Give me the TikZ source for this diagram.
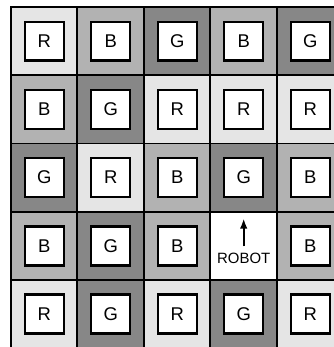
\documentclass[tikz,border=0pt]{standalone}
\usepackage{fontspec}
\setmainfont{Liberation Sans}
\usepackage{tikz}
\usetikzlibrary{arrows.meta, positioning}

\definecolor{tileR}{gray}{0.9}
\definecolor{tileB}{gray}{0.7}
\definecolor{tileG}{gray}{0.53}

\begin{document}
\begin{tikzpicture}[
    x=1.33cm, y=1.365cm,
    cell/.style={rectangle, draw, line width=1.1pt, minimum width=1.33cm, minimum height=1.365cm},
    cellR/.style={cell, fill=tileR},
    cellB/.style={cell, fill=tileB},
    cellG/.style={cell, fill=tileG},
    letter/.style={rectangle, draw, fill=white, line width=1.3pt, minimum size=0.78cm, font=\fontsize{10.5}{12}\selectfont},
    arrow/.style={-{Latex[length=2mm, width=1.5mm]}, line width=1pt}
]
\useasboundingbox (-0.665,-4.482) rectangle (4.357,0.603);

% row 1
\node[cellR] (c11) at (0,0) {}; \node[letter] (t11) at (c11) {R};
\node[cellB] (c12) at (1,0) {}; \node[letter] (t12) at (c12) {B};
\node[cellG] (c13) at (2,0) {}; \node[letter] (t13) at (c13) {G};
\node[cellB] (c14) at (3,0) {}; \node[letter] (t14) at (c14) {B};
\node[cellG] (c15) at (4,0) {}; \node[letter] (t15) at (c15) {G};

% row 2
\node[cellB] (c21) at (0,-1) {}; \node[letter] (t21) at (c21) {B};
\node[cellG] (c22) at (1,-1) {}; \node[letter] (t22) at (c22) {G};
\node[cellR] (c23) at (2,-1) {}; \node[letter] (t23) at (c23) {R};
\node[cellR] (c24) at (3,-1) {}; \node[letter] (t24) at (c24) {R};
\node[cellR] (c25) at (4,-1) {}; \node[letter] (t25) at (c25) {R};

% row 3
\node[cellG] (c31) at (0,-2) {}; \node[letter] (t31) at (c31) {G};
\node[cellR] (c32) at (1,-2) {}; \node[letter] (t32) at (c32) {R};
\node[cellB] (c33) at (2,-2) {}; \node[letter] (t33) at (c33) {B};
\node[cellG] (c34) at (3,-2) {}; \node[letter] (t34) at (c34) {G};
\node[cellB] (c35) at (4,-2) {}; \node[letter] (t35) at (c35) {B};

% row 4
\node[cellB] (c41) at (0,-3) {}; \node[letter] (t41) at (c41) {B};
\node[cellG] (c42) at (1,-3) {}; \node[letter] (t42) at (c42) {G};
\node[cellB] (c43) at (2,-3) {}; \node[letter] (t43) at (c43) {B};
\node[cell, fill=white] (c44) at (3,-3) {};
\node[cellB] (c45) at (4,-3) {}; \node[letter] (t45) at (c45) {B};

% row 5
\node[cellR] (c51) at (0,-4) {}; \node[letter] (t51) at (c51) {R};
\node[cellG] (c52) at (1,-4) {}; \node[letter] (t52) at (c52) {G};
\node[cellR] (c53) at (2,-4) {}; \node[letter] (t53) at (c53) {R};
\node[cellG] (c54) at (3,-4) {}; \node[letter] (t54) at (c54) {G};
\node[cellR] (c55) at (4,-4) {}; \node[letter] (t55) at (c55) {R};

% robot
\node[font=\fontsize{8.5}{10}\selectfont, inner sep=1pt] (robot) at (3,-3.18) {ROBOT};
\coordinate (heading) at (3,-2.6);
\draw[arrow] ([yshift=2.5pt]robot.north) -- (heading);
\end{tikzpicture}
\end{document}
